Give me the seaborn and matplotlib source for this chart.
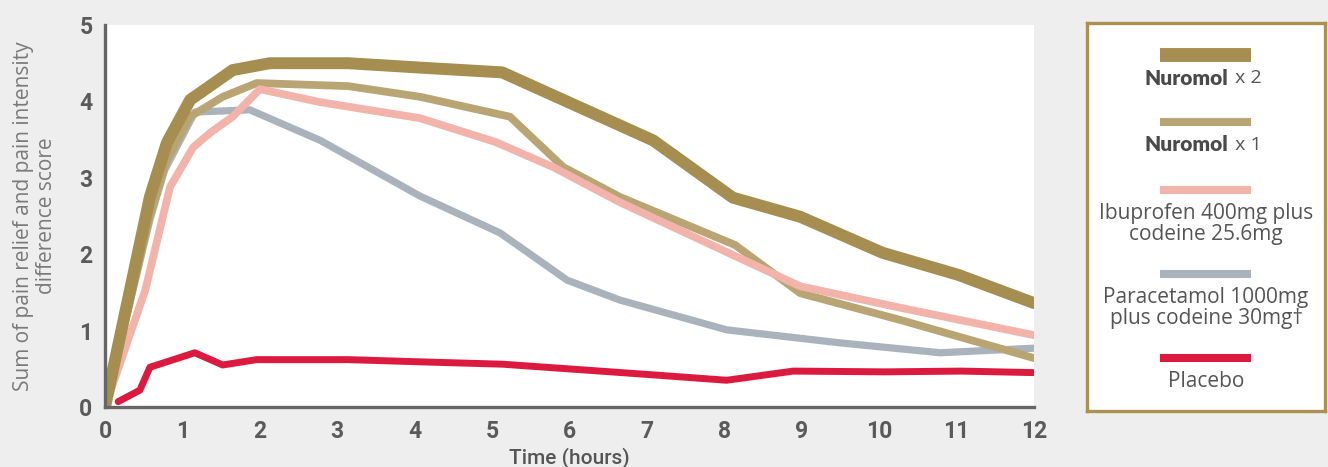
import pandas as pd
import seaborn as sns
import matplotlib.pyplot as plt

# values
nuromol2_time = [0, 0.58, 0.80, 1.10, 1.65, 2.13, 3.14, 4.11, 5.13, 7.08, 8.11, 8.98, 10.04, 11.02, 12.0]
nuromol2_score = [0, 2.75, 3.46, 4.02, 4.41, 4.50, 4.50, 4.44, 4.38, 3.49, 2.74, 2.49, 2.02, 1.73, 1.36]

nuromol1_time = [0, 0.58, 0.80, 1.10, 1.52, 1.96, 3.14, 4.07, 5.23, 5.92, 6.65, 8.14, 8.98, 10.27, 12.0]
nuromol1_score = [0, 2.51, 3.23, 3.80, 4.06, 4.24, 4.20, 4.06, 3.80, 3.14, 2.75, 2.12, 1.49, 1.14, 0.64]

ibuprofen_time = [0, 0.52, 0.84, 1.14, 1.36, 1.65, 2.0, 2.78, 4.07, 5.04, 5.79, 6.65, 8.11, 8.98, 10.27, 12.0]
ibuprofen_score = [0, 1.53, 2.88, 3.40, 3.59, 3.80, 4.16, 3.99, 3.78, 3.47, 3.14, 2.68, 1.99, 1.58, 1.30, 0.94]

paracetamol_time = [0, 0.58, 0.77, 1.16, 1.87, 2.78, 4.07, 5.10, 5.97, 6.65, 8.03, 9.49, 10.79, 12.0]
paracetamol_score = [0, 2.45, 3.10, 3.86, 3.89, 3.49, 2.76, 2.28, 1.66, 1.40, 1.01, 0.84, 0.71, 0.77]

placebo_time = [0.17, 0.45, 0.58, 1.16, 1.52, 1.96, 3.14, 4.11, 5.14, 7.09, 8.03, 8.89, 10.07, 11.06, 12.0]
placebo_score = [0.07, 0.22, 0.52, 0.71, 0.55, 0.62, 0.62, 0.59, 0.56, 0.42, 0.35, 0.47, 0.46, 0.47, 0.45]

x_ticks = list(range(0, 13))
y_ticks = list(range(0, 6))

# (key, time, score, colour, line width, z order)
series = [
    ('paracetamol', paracetamol_time, paracetamol_score, '#aab2bc', 5.2, 2),
    ('nuromol1', nuromol1_time, nuromol1_score, '#b9a573', 5.6, 3),
    ('ibuprofen', ibuprofen_time, ibuprofen_score, '#f2b4aa', 5.6, 4),
    ('nuromol2', nuromol2_time, nuromol2_score, '#a58e50', 8.6, 5),
    ('placebo', placebo_time, placebo_score, '#dc1a40', 5.0, 6),
]

sns.set_style('white')
plt.rcParams['font.family'] = ['Open Sans', 'DejaVu Sans']

fig = plt.figure(figsize=(13.28, 4.67), dpi=100)
fig.patch.set_facecolor('#eeeeee')
ax = fig.add_axes([105 / 1328, 60 / 467, 929 / 1328, 382 / 467])
ax.set_facecolor('white')

for key, t, s, colour, lw, z in series:
    df = pd.DataFrame({'time': t, 'score': s})
    sns.lineplot(data=df, x='time', y='score', color=colour, linewidth=lw,
                 ax=ax, zorder=z, sort=False)
    ax.lines[-1].set_solid_joinstyle('round')

ax.set_xlim(0, 12)
ax.set_ylim(0, 5)
ax.set_xticks(x_ticks)
ax.set_yticks(y_ticks)

for side in ['top', 'right']:
    ax.spines[side].set_visible(False)
for side in ['left', 'bottom']:
    ax.spines[side].set_color('#666666')
    ax.spines[side].set_linewidth(2.4)
    ax.spines[side].set_zorder(10)

ax.tick_params(axis='both', direction='out', length=7, width=1.8, color='#666666',
               labelcolor='#5a5a5a', labelsize=16.5, pad=2)
for lab in ax.get_xticklabels() + ax.get_yticklabels():
    lab.set_family(['Roboto', 'DejaVu Sans'])
    lab.set_fontweight('bold')

ax.set_xlabel('Time (hours)', fontsize=15, color='#555555',
              family=['Roboto', 'DejaVu Sans'], fontweight='medium')
ax.xaxis.set_label_coords(0.5, -0.133)
ax.xaxis.label.set_va('center')
ax.set_ylabel('Sum of pain relief and pain intensity\ndifference score',
              fontsize=15, color='#7a7a7a', linespacing=1.1)
ax.yaxis.set_label_coords(-0.0753, 0.5)
ax.yaxis.label.set_va('center')

# legend box drawn by hand: swatch above label
lax = fig.add_axes([1087 / 1328, 56 / 467, 238 / 1328, 388 / 467])
lax.set_xlim(0, 1)
lax.set_ylim(0, 1)
lax.set_xticks([])
lax.set_yticks([])
lax.set_facecolor('white')
for sp in lax.spines.values():
    sp.set_color('#aa9150')
    sp.set_linewidth(2.4)

legend_items = [
    ('nuromol2', 0.918, 0.858, 10.0, None),
    ('nuromol1', 0.745, 0.686, 5.8, None),
    ('ibuprofen', 0.570, 0.483, 5.8, 'Ibuprofen 400mg plus\ncodeine 25.6mg'),
    ('paracetamol', 0.353, 0.265, 5.8, 'Paracetamol 1000mg\nplus codeine 30mg\u2020'),
    ('placebo', 0.137, 0.075, 5.8, 'Placebo'),
]
colours = {key: colour for key, _, _, colour, _, _ in series}
for key, y_sw, y_txt, lw, text in legend_items:
    lax.plot([0.307, 0.689], [y_sw, y_sw], color=colours[key], linewidth=lw,
             solid_capstyle='butt')
    if text is None:
        dose = ' x 2' if key == 'nuromol2' else ' x 1'
        lax.text(0.595, y_txt, 'Nuromol', ha='right', va='center', fontsize=15,
                 fontweight='heavy', color='#4a4a4a', family=['Lato', 'DejaVu Sans'])
        lax.text(0.60, y_txt, dose, ha='left', va='center', fontsize=14,
                 color='#555555')
    else:
        lax.text(0.5, y_txt, text, ha='center', va='center', fontsize=15,
                 color='#555555', linespacing=1.0)

fig.savefig('out.png', dpi=100, facecolor=fig.get_facecolor())
